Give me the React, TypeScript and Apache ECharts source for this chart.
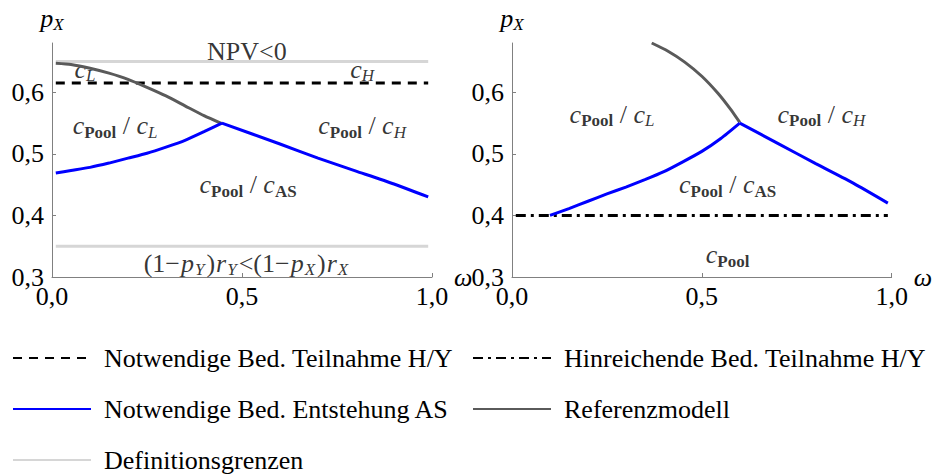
import React, { useEffect, useRef } from "react";
import * as echarts from "echarts";

const FONT = "Liberation Serif";

// shared axis ticks
const xTicks = [0, 0.5, 1];
const yTicks = [0.3, 0.4, 0.5, 0.6];
const yMin = 0.3;
const yMax = 0.68;

// left panel
const leftDefUpper = [[0.01, 0.65], [0.99, 0.65]];
const leftDefLower = [[0.01, 0.35], [0.99, 0.35]];
const leftNecessaryHY = [[0.01, 0.615], [0.99, 0.615]];
const leftEmergenceRising = [
  [0.01, 0.469], [0.05, 0.473], [0.1, 0.478], [0.15, 0.485], [0.2, 0.493],
  [0.25, 0.501], [0.3, 0.511], [0.35, 0.522], [0.4, 0.536], [0.447, 0.55],
];
const leftEmergenceFalling = [
  [0.447, 0.55], [0.6, 0.516], [0.7, 0.493], [0.8, 0.472], [0.9, 0.451], [0.99, 0.43],
];
const leftReference = [
  [0.01, 0.647], [0.05, 0.645], [0.1, 0.639], [0.15, 0.631], [0.2, 0.621],
  [0.25, 0.608], [0.3, 0.594], [0.35, 0.578], [0.4, 0.562], [0.447, 0.549],
];

// right panel
const rightSufficientHY = [[0.01, 0.4], [0.99, 0.4]];
const rightEmergenceRising = [
  [0.1, 0.4], [0.15, 0.411], [0.2, 0.423], [0.25, 0.435], [0.3, 0.446],
  [0.35, 0.458], [0.4, 0.471], [0.45, 0.487], [0.5, 0.504], [0.55, 0.525],
  [0.6, 0.55],
];
const rightEmergenceFalling = [
  [0.6, 0.55], [0.7, 0.517], [0.8, 0.484], [0.9, 0.452], [0.99, 0.42],
];
const rightReference = [
  [0.368, 0.68], [0.41, 0.667], [0.455, 0.649], [0.5, 0.626], [0.543, 0.598],
  [0.575, 0.573], [0.6, 0.551],
];

// region annotations: [x, y, rich text]
const leftLabels: [number, number, string][] = [
  [0.513, 0.667, "{n|NPV<0}"],
  [0.087, 0.637, "{c|c}{si|L}"],
  [0.816, 0.637, "{c|c}{si|H}"],
  [0.166, 0.546, "{c|c}{sb|Pool}{n| / }{c|c}{si|L}"],
  [0.816, 0.546, "{c|c}{sb|Pool}{n| / }{c|c}{si|H}"],
  [0.516, 0.45, "{c|c}{sb|Pool}{n| / }{c|c}{sb|AS}"],
  [0.513, 0.322, "{n|(1−}{cw|p}{sw|Y}{n|)}{cw|r}{sw|Y}{n|<(1−}{cw|p}{sw|X}{n|)}{cw|r}{sw|X}"],
];
const rightLabels: [number, number, string][] = [
  [0.2635, 0.564, "{c|c}{sb|Pool}{n| / }{c|c}{si|L}"],
  [0.815, 0.564, "{c|c}{sb|Pool}{n| / }{c|c}{si|H}"],
  [0.568, 0.45, "{c|c}{sb|Pool}{n| / }{c|c}{sb|AS}"],
  [0.568, 0.336, "{c|c}{sb|Pool}"],
];

const NAME_NEC = "Notwendige Bed. Teilnahme H/Y";
const NAME_SUF = "Hinreichende Bed. Teilnahme H/Y";
const NAME_AS = "Notwendige Bed. Entstehung AS";
const NAME_REF = "Referenzmodell";
const NAME_DEF = "Definitionsgrenzen";

const BLUE = "#0000ff";
const DARK = "#5a5a5a";
const LIGHT = "#d6d6d6";
const AXIS = "#808080";

const rich = {
  n: { fontFamily: FONT, fontSize: 26, lineHeight: 30, verticalAlign: "middle", color: "#000" },
  c: { fontFamily: FONT, fontSize: 26, fontStyle: "italic", lineHeight: 30, verticalAlign: "middle", color: "#000" },
  cw: { fontFamily: FONT, fontSize: 26, fontStyle: "italic", lineHeight: 30, verticalAlign: "middle", color: "#000", padding: [0, 1, 0, 1] },
  sb: { fontFamily: FONT, fontSize: 17, fontWeight: "bold", lineHeight: 14, verticalAlign: "bottom", color: "#000" },
  si: { fontFamily: FONT, fontSize: 17, fontStyle: "italic", lineHeight: 14, verticalAlign: "bottom", color: "#000" },
  sw: { fontFamily: FONT, fontSize: 17, fontStyle: "italic", lineHeight: 14, verticalAlign: "bottom", color: "#000", padding: [0, 2, 0, 0] },
};

const fmt = (v: number) => v.toFixed(1).replace(".", ",");

function xAxisFor(gridIndex: number) {
  return {
    type: "value",
    gridIndex,
    min: 0,
    max: 1,
    interval: 0.5,
    splitLine: { show: false },
    axisLine: { lineStyle: { color: AXIS, width: 1 } },
    axisTick: { inside: true, length: 4, lineStyle: { color: AXIS } },
    axisLabel: {
      fontFamily: FONT,
      fontSize: 26,
      color: "#000",
      margin: 6,
      customValues: xTicks,
      formatter: fmt,
    },
    name: "ω",
    nameLocation: "end",
    nameGap: 22,
    nameTextStyle: { fontFamily: FONT, fontSize: 26, fontStyle: "italic", color: "#000", verticalAlign: "middle" },
  };
}

function yAxisFor(gridIndex: number) {
  return {
    type: "value",
    gridIndex,
    min: yMin,
    max: yMax,
    interval: 0.1,
    splitLine: { show: false },
    axisLine: { lineStyle: { color: AXIS, width: 1 } },
    axisTick: { inside: true, length: 4, lineStyle: { color: AXIS }, customValues: yTicks },
    axisLabel: {
      fontFamily: FONT,
      fontSize: 26,
      color: "#000",
      margin: 8,
      customValues: yTicks,
      formatter: (v: number) => (yTicks.some((t) => Math.abs(t - v) < 1e-6) ? fmt(v) : ""),
    },
    name: "{p|p}{s|X}",
    nameLocation: "end",
    nameGap: 10,
    nameTextStyle: {
      fontFamily: FONT,
      rich: {
        p: { fontFamily: FONT, fontSize: 26, fontStyle: "italic", lineHeight: 30, verticalAlign: "middle", color: "#000" },
        s: { fontFamily: FONT, fontSize: 17, fontStyle: "italic", lineHeight: 14, verticalAlign: "bottom", color: "#000" },
      },
    },
  };
}

function line(name: string, data: number[][], idx: number, color: string, type: any = "solid", smooth = 0) {
  return {
    type: "line",
    name,
    xAxisIndex: idx,
    yAxisIndex: idx,
    data,
    symbol: "none",
    showSymbol: false,
    silent: true,
    clip: true,
    smooth,
    lineStyle: { color, width: 3, type },
    itemStyle: { color },
  };
}

function labels(data: [number, number, string][], idx: number) {
  return {
    type: "scatter",
    xAxisIndex: idx,
    yAxisIndex: idx,
    symbolSize: 0,
    silent: true,
    data: data.map(([x, y, t]) => ({ value: [x, y], name: t })),
    label: {
      show: true,
      position: "inside",
      align: "center",
      verticalAlign: "middle",
      formatter: (p: any) => p.name,
      rich,
    },
  };
}

export default function App() {
  const ref = useRef<HTMLDivElement>(null);

  useEffect(() => {
    if (!ref.current) return;
    const chart = echarts.init(ref.current, null, { renderer: "svg" });
    const legendText = { fontFamily: FONT, fontSize: 26, color: "#000", lineHeight: 26, padding: [0, 0, 0, 8] };
    const legendBase = {
      orient: "vertical",
      top: 345,
      padding: 0,
      itemGap: 25,
      itemWidth: 78,
      itemHeight: 14,
      selectedMode: false,
      itemStyle: { opacity: 0, borderWidth: 0 },
      textStyle: legendText,
    };
    chart.setOption({
      animation: false,
      backgroundColor: "#fff",
      textStyle: { fontFamily: FONT },
      grid: [
        { left: 52, top: 43, width: 380, height: 234 },
        { left: 512, top: 43, width: 380, height: 234 },
      ],
      xAxis: [xAxisFor(0), xAxisFor(1)],
      yAxis: [yAxisFor(0), yAxisFor(1)],
      legend: [
        { ...legendBase, left: 12, data: [NAME_NEC, NAME_AS, NAME_DEF] },
        { ...legendBase, left: 472, data: [NAME_SUF, NAME_REF] },
      ],
      series: [
        line(NAME_DEF, leftDefUpper, 0, LIGHT),
        line(NAME_DEF, leftDefLower, 0, LIGHT),
        line(NAME_NEC, leftNecessaryHY, 0, "#000", [9, 7]),
        line(NAME_REF, leftReference, 0, DARK, "solid", 0.2),
        line(NAME_AS, leftEmergenceRising, 0, BLUE, "solid", 0.2),
        line(NAME_AS, leftEmergenceFalling, 0, BLUE, "solid", 0.2),
        labels(leftLabels, 0),
        line(NAME_SUF, rightSufficientHY, 1, "#000", [10, 5, 3, 5]),
        line(NAME_REF, rightReference, 1, DARK, "solid", 0.2),
        line(NAME_AS, rightEmergenceRising, 1, BLUE, "solid", 0.2),
        line(NAME_AS, rightEmergenceFalling, 1, BLUE, "solid", 0.2),
        labels(rightLabels, 1),
      ],
    });
    return () => chart.dispose();
  }, []);

  return (
    <div
      ref={ref}
      style={{ position: "absolute", left: 0, top: 0, width: 933, height: 476, background: "#fff" }}
    />
  );
}
